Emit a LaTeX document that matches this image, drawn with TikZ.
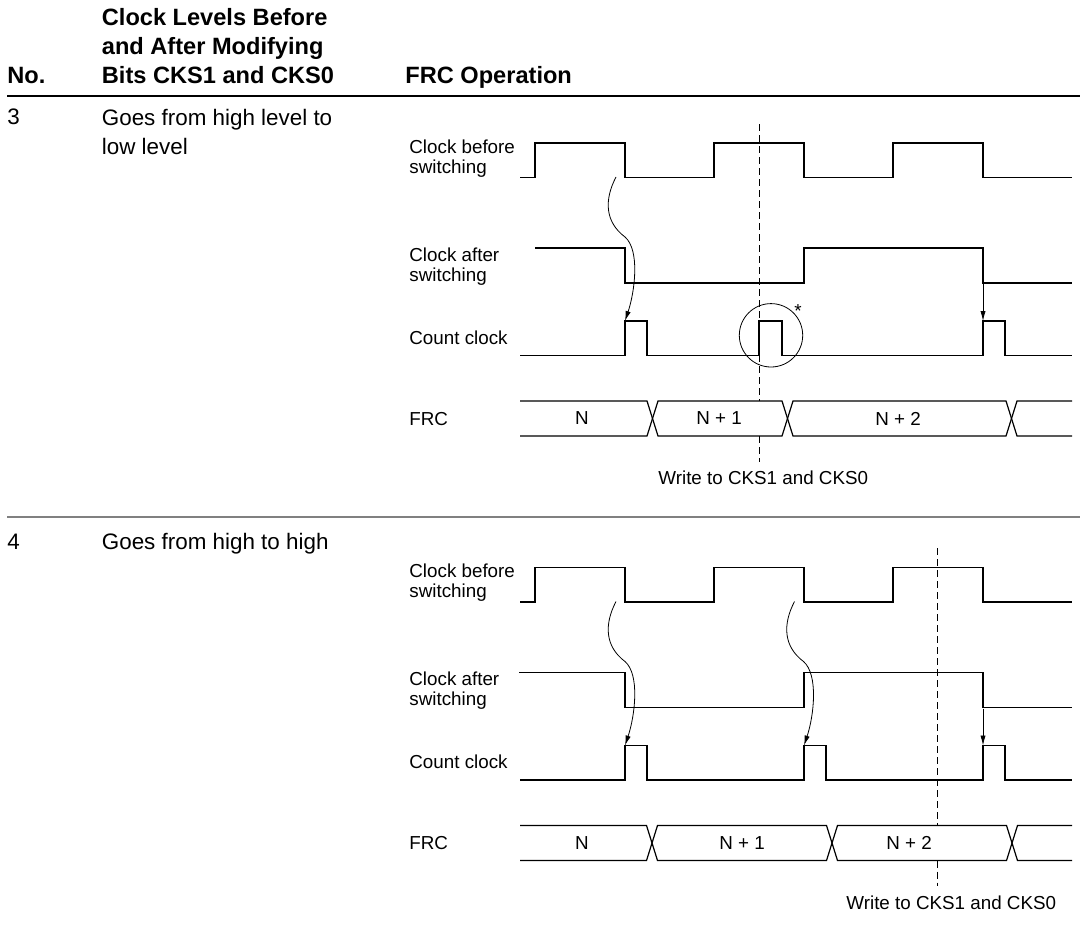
\documentclass[tikz,border=0pt]{standalone}
\usepackage{fontspec}
\setmainfont{Liberation Sans}
\usepackage{tikz}
\usetikzlibrary{arrows.meta}
\newcommand{\lblfont}{\fontsize{9.4}{10}\selectfont}
\newcommand{\colfont}{\fontsize{11.2}{14.8}\selectfont}
\newcommand{\headfont}{\fontsize{11.8}{14.6}\selectfont\bfseries}

\begin{document}
\begin{tikzpicture}[
    x=0.5pt, y=-0.5pt,
    wave/.style={line width=0.75pt},
    bus/.style={line width=0.6pt},
    cause/.style={-{Latex[length=5pt,width=2.6pt]}, line width=0.4pt},
    writeline/.style={line width=0.45pt, dash pattern=on 3.5pt off 2pt},
    lbl/.style={font=\lblfont, anchor=west, inner sep=0pt, align=left},
    val/.style={font=\lblfont, inner sep=0pt},
    col/.style={font=\colfont, anchor=west, inner sep=0pt, align=left},
    head/.style={font=\headfont, anchor=west, inner sep=0pt, align=left},
]
\useasboundingbox (0,0) rectangle (1085,942);

% Table head
\node[head] (hno) at (7,75) {No.};
\node[head] (hlevels) at (101.5,46) {Clock Levels Before\\and After Modifying\\Bits CKS1 and CKS0};
\node[head] (hfrc) at (405,77) {FRC Operation};
\draw[line width=1pt] (7,95.7) -- (1080,95.7);

% Case 3
\node[col] (no3) at (7,117) {3};
\node[col] (case3) at (101.5,132) {Goes from high level to\\low level};
\node[lbl] (before3) at (409,158.5) {Clock before\\switching};
\node[lbl] (after3) at (409,266.5) {Clock after\\switching};
\node[lbl] (count3) at (409,337.5) {Count clock};
\node[lbl] (frc3) at (409,419) {FRC};

\draw[wave] (520,177.5) -| (535,143) -| (625,177.5) -| (714,143) -| (804,177.5) -| (893,143) -| (983,177.5) -- (1072,177.5);
\draw[wave] (535,248) -| (625,283) -| (804,248) -| (983,283) -- (1072,283);
\draw[wave] (520,355.5) -| (625,321) -| (647,355.5) -| (759,321) -| (782,355.5) -| (983,321) -| (1005,355.5) -- (1072,355.5);

\draw[bus] (520,401) -- (647,401) -- (658,436) -- (782,436) -- (793,401) -- (1006,401) -- (1017,436) -- (1072,436);
\draw[bus] (520,436) -- (647,436) -- (658,401) -- (782,401) -- (793,436) -- (1006,436) -- (1017,401) -- (1072,401);
\node[val] (n3a) at (582,418.5) {N};
\node[val] (n3b) at (719,418.5) {N + 1};
\node[val] (n3c) at (898,418.5) {N + 2};

% write point
\coordinate (w3top) at (759.3,124);
\coordinate (w3in) at (759.3,401);
\coordinate (w3out) at (759.3,436);
\coordinate (w3bot) at (759.3,462);
\draw[writeline] (w3top) -- (w3in);
\draw[writeline] (w3out) -- (w3bot);
\node[lbl] (write3) at (658,478) {Write to CKS1 and CKS0};

\node[draw, circle, line width=0.4pt, minimum size=31.7pt, inner sep=0pt] (glitch3) at (771,335.3) {};
\node[val] (star3) at (798,311) {*};

% causes
\coordinate (fall3a) at (616,177);
\coordinate (rise3a) at (625,321);
\coordinate (fall3b) at (983,284);
\coordinate (rise3b) at (983,321);
\draw[cause] (fall3a) .. controls +(-12,23) and +(-20,-15) .. ++(9,60) .. controls +(15,13) and +(10,-30) .. (rise3a);
\draw[cause] (fall3b) -- (rise3b);

\draw[gray, line width=0.9pt] (7,517.3) -- (1080,517.3);

% Case 4
\begin{scope}[shift={(0,424.5)}]
\node[col] (no4) at (7,117) {4};
\node[col] (case4) at (101.5,119.3) {Goes from high to high};
\node[lbl] (before4) at (409,158.5) {Clock before\\switching};
\node[lbl] (after4) at (409,266.5) {Clock after\\switching};
\node[lbl] (count4) at (409,337.5) {Count clock};
\node[lbl] (frc4) at (409,419) {FRC};

\draw[wave] (520,177.5) -| (535,143) -| (625,177.5) -| (714,143) -| (804,177.5) -| (893,143) -| (983,177.5) -- (1072,177.5);
\draw[wave] (519,248) -| (625,283) -| (804,248) -| (983,283) -- (1072,283);
\draw[wave] (520,355.5) -| (625,321) -| (647,355.5) -| (804,321) -| (826,355.5) -| (983,321) -| (1005,355.5) -- (1072,355.5);

\draw[bus] (520,401) -- (646.5,401) -- (657.5,436) -- (826.5,436) -- (837.5,401) -- (1006.5,401) -- (1017.5,436) -- (1072,436);
\draw[bus] (520,436) -- (646.5,436) -- (657.5,401) -- (826.5,401) -- (837.5,436) -- (1006.5,436) -- (1017.5,401) -- (1072,401);
\node[val] (n4a) at (582,418.5) {N};
\node[val] (n4b) at (742,418.5) {N + 1};
\node[val] (n4c) at (909,418.5) {N + 2};

% write point
\coordinate (w4top) at (937.3,123.5);
\coordinate (w4in) at (937.3,401);
\coordinate (w4out) at (937.3,436);
\coordinate (w4bot) at (937.3,461);
\draw[writeline] (w4top) -- (w4in);
\draw[writeline] (w4out) -- (w4bot);
\node[lbl] (write4) at (846,478) {Write to CKS1 and CKS0};

% causes
\coordinate (fall4a) at (616,177);
\coordinate (rise4a) at (625,321);
\coordinate (fall4b) at (794.5,177);
\coordinate (rise4b) at (804,321);
\coordinate (fall4c) at (983,284);
\coordinate (rise4c) at (983,321);
\draw[cause] (fall4a) .. controls +(-12,23) and +(-20,-15) .. ++(9,60) .. controls +(15,13) and +(10,-30) .. (rise4a);
\draw[cause] (fall4b) .. controls +(-12,23) and +(-20,-15) .. ++(9,60) .. controls +(15,13) and +(10,-30) .. (rise4b);
\draw[cause] (fall4c) -- (rise4c);
\end{scope}
\end{tikzpicture}
\end{document}
